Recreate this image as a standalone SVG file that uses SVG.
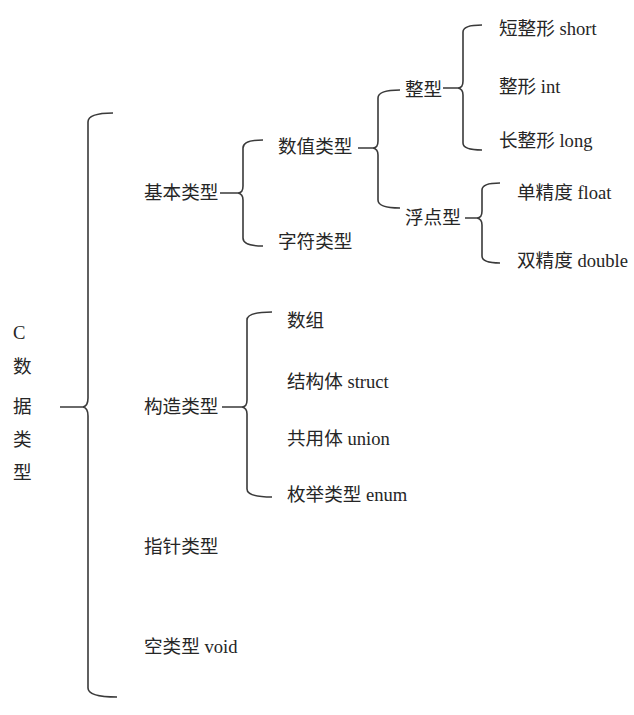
<svg xmlns="http://www.w3.org/2000/svg" width="634" height="715" viewBox="0 0 634 715">
<style>
text{font-family:"Liberation Serif","Noto Sans CJK SC",serif;font-size:18.6px;fill:#262626}
.b{fill:none;stroke:#3a3a3a;stroke-width:1.6}
</style>
<rect width="634" height="715" fill="#fff"/>
<g id="connectors">
<path class="b" d="M113,113 Q88,113 88,122 V398 Q88,406 83,407 Q88,408 88,416 V688 Q88,697 117,697 M60,407 H83"/>
<path class="b" d="M263,140 Q243,140 243,148 V186 Q243,193 238,193 Q243,194 243,200 V238 Q243,246 263,246 M220,193 H238"/>
<path class="b" d="M400,90 Q378,90 378,98 V141 Q378,148 373,148 Q378,149 378,155 V200 Q378,208 400,208 M358,148 H373"/>
<path class="b" d="M482,25 Q463,25 463,32 V81 Q463,88 458,88 Q463,89 463,95 V143 Q463,150 482,150 M443,88 H458"/>
<path class="b" d="M500,183 Q482,183 482,190 V211 Q482,218 477,218 Q482,219 482,225 V256 Q482,263 500,263 M465,218 H477"/>
<path class="b" d="M272,312 Q247,312 247,320 V400 Q247,407 242,407 Q247,408 247,414 V489 Q247,497 272,497 M222,407 H242"/>
</g>
<g id="root"><text x="13" y="339">C</text><text x="13" y="373">数</text><text x="13" y="413">据</text><text x="13" y="446">类</text><text x="13" y="479">型</text></g>
<g id="basic"><text x="144" y="199">基本类型</text></g>
<g id="numeric"><text x="278" y="153">数值类型</text></g>
<g id="char"><text x="278" y="248">字符类型</text></g>
<g id="integer"><text x="405" y="96">整型</text></g>
<g id="float-type"><text x="405" y="224">浮点型</text></g>
<g id="short"><text x="499" y="35">短整形 short</text></g>
<g id="int"><text x="499" y="93">整形 int</text></g>
<g id="long"><text x="499" y="147">长整形 long</text></g>
<g id="float"><text x="517" y="199">单精度 float</text></g>
<g id="double"><text x="517" y="267">双精度 double</text></g>
<g id="construct"><text x="144" y="413">构造类型</text></g>
<g id="array"><text x="287" y="327">数组</text></g>
<g id="struct"><text x="287" y="388">结构体 struct</text></g>
<g id="union"><text x="287" y="445">共用体 union</text></g>
<g id="enum"><text x="287" y="501">枚举类型 enum</text></g>
<g id="pointer"><text x="144" y="553">指针类型</text></g>
<g id="void"><text x="144" y="653">空类型 void</text></g>
</svg>
